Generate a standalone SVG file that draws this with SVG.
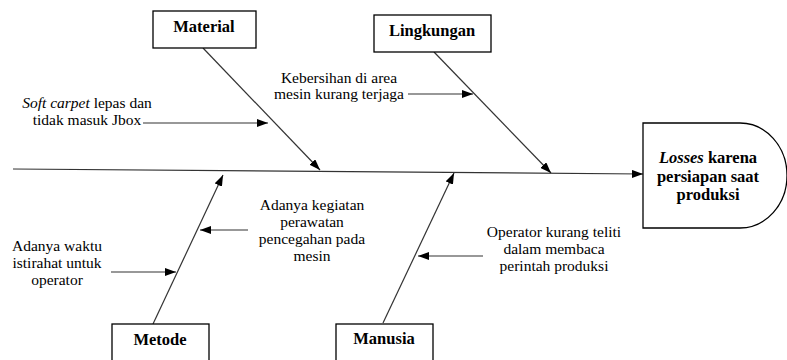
<svg xmlns="http://www.w3.org/2000/svg" width="787" height="360" viewBox="0 0 787 360">
<defs>
<marker id="ah" markerUnits="userSpaceOnUse" markerWidth="11" markerHeight="8" refX="11" refY="4" orient="auto">
<path d="M0,0 L11,4 L0,8 Z" fill="#000"/>
</marker>
<style>
.box{fill:#fff;stroke:#000;stroke-width:1.3}
.lbl{font-family:"Liberation Serif","Times New Roman",serif;font-size:16.5px;font-weight:bold;text-anchor:middle;fill:#000}
.txt{font-family:"Liberation Serif","Times New Roman",serif;font-size:15.5px;text-anchor:middle;fill:#000}
.ln{stroke:#333;stroke-width:1.2;fill:none;marker-end:url(#ah)}
</style>
</defs>
<rect width="787" height="360" fill="#fff"/>
<g id="connectors">
<line class="ln" x1="13" y1="169" x2="643" y2="174"/>
<line class="ln" x1="203" y1="48" x2="320" y2="170"/>
<line class="ln" x1="434" y1="52" x2="551" y2="173"/>
<line class="ln" x1="153" y1="324" x2="223" y2="175"/>
<line class="ln" x1="383" y1="323" x2="454" y2="173"/>
<line class="ln" x1="143" y1="123" x2="268" y2="123"/>
<line class="ln" x1="408" y1="94" x2="473" y2="94"/>
<line class="ln" x1="111" y1="272" x2="176" y2="272"/>
<line class="ln" x1="248" y1="230" x2="200" y2="230"/>
<line class="ln" x1="483" y1="256" x2="418" y2="256"/>
</g>
<g id="material">
<rect class="box" x="153" y="11" width="103" height="37"/>
<text class="lbl" x="204" y="32">Material</text>
</g>
<g id="lingkungan">
<rect class="box" x="374" y="15" width="117" height="37"/>
<text class="lbl" x="432" y="36">Lingkungan</text>
</g>
<g id="metode">
<rect class="box" x="112" y="324" width="97" height="40"/>
<text class="lbl" x="160" y="345">Metode</text>
</g>
<g id="manusia">
<rect class="box" x="336" y="324" width="97" height="40"/>
<text class="lbl" x="384" y="344">Manusia</text>
</g>
<g id="head">
<path class="box" d="M643,123 H740 A47,52.5 0 0 1 740,228 H643 Z"/>
<text class="lbl" x="708" y="163"><tspan font-style="italic">Losses</tspan> karena</text>
<text class="lbl" x="708" y="182">persiapan saat</text>
<text class="lbl" x="708" y="200">produksi</text>
</g>
<g id="cause-soft-carpet">
<text class="txt" x="87" y="108"><tspan font-style="italic">Soft carpet</tspan> lepas dan</text>
<text class="txt" x="87" y="125">tidak masuk Jbox</text>
</g>
<g id="cause-kebersihan">
<text class="txt" x="339" y="83">Kebersihan di area</text>
<text class="txt" x="339" y="99">mesin kurang terjaga</text>
</g>
<g id="cause-waktu">
<text class="txt" x="57" y="251">Adanya waktu</text>
<text class="txt" x="57" y="268">istirahat untuk</text>
<text class="txt" x="57" y="285">operator</text>
</g>
<g id="cause-perawatan">
<text class="txt" x="312" y="210">Adanya kegiatan</text>
<text class="txt" x="312" y="227">perawatan</text>
<text class="txt" x="312" y="244">pencegahan pada</text>
<text class="txt" x="312" y="261">mesin</text>
</g>
<g id="cause-operator">
<text class="txt" x="554" y="237">Operator kurang teliti</text>
<text class="txt" x="554" y="254">dalam membaca</text>
<text class="txt" x="554" y="271">perintah produksi</text>
</g>
</svg>
